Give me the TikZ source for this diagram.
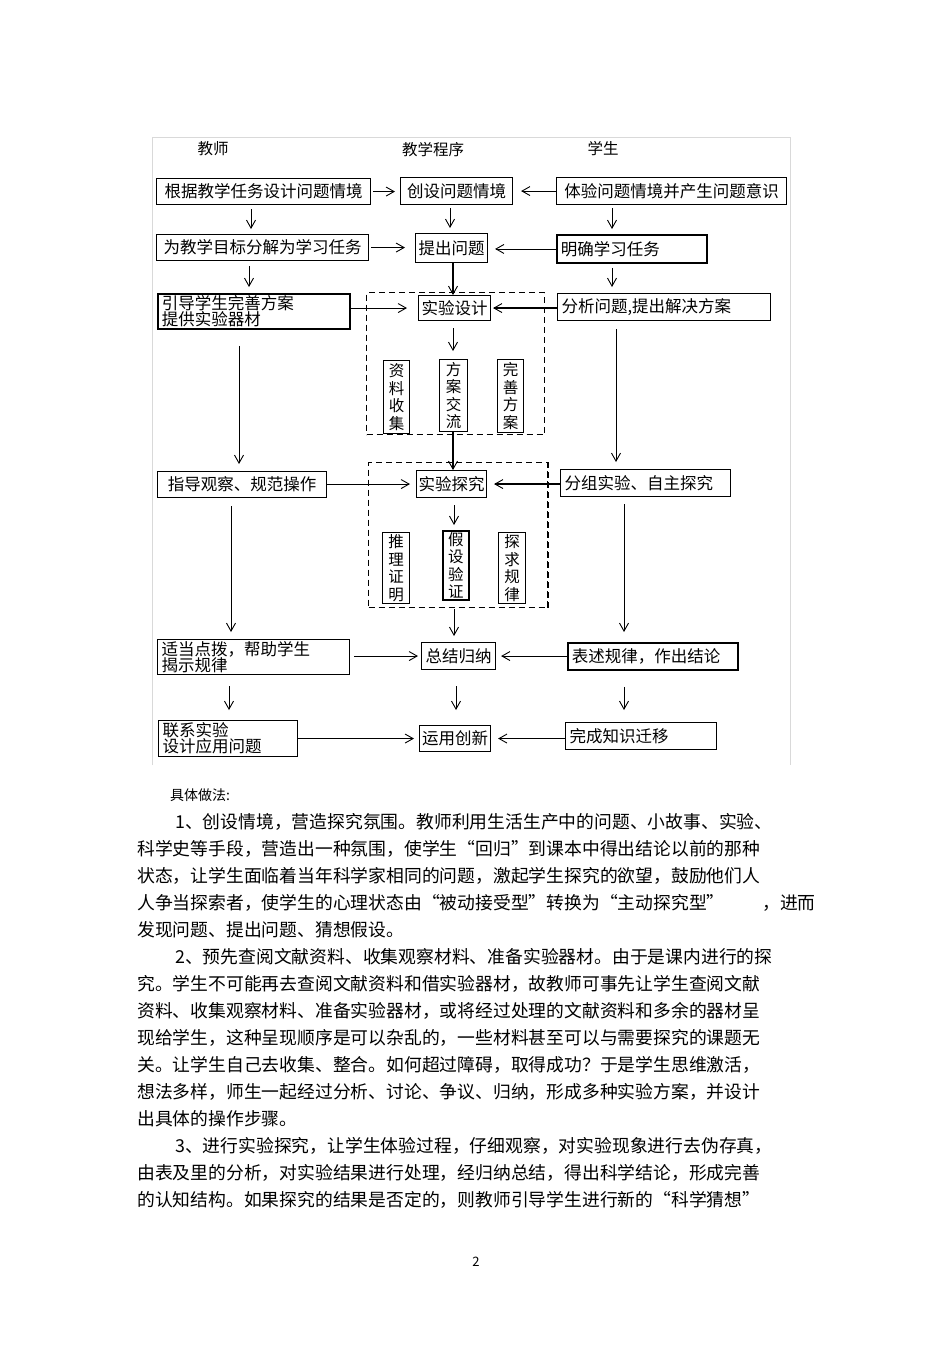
\documentclass[tikz,border=0pt]{standalone}
\usepackage{fontspec}
\newfontfamily\cjk{Noto Sans CJK SC}
\usetikzlibrary{arrows.meta}
\begin{document}
\begin{tikzpicture}[x=1pt,y=-1pt,
  bx/.style={draw, line width=1.1pt, inner sep=1.5pt, anchor=north west, font=\cjk\fontsize{16.5}{16}\selectfont},
  lbx/.style={bx, align=left, inner xsep=4pt},
  thk/.style={line width=1.9pt},
  vbx/.style={draw, line width=1.1pt, inner sep=1pt, anchor=north west, align=center, font=\cjk\fontsize{15.5}{17.5}\selectfont},
  dbx/.style={draw, dash pattern=on 6pt off 4pt, line width=1.1pt, anchor=north west, inner sep=0pt},
  hdr/.style={font=\cjk\fontsize{15.5}{15}\selectfont},
  arr/.style={-{Straight Barb[length=8pt,width=9pt,line width=0.9pt]}, line width=0.9pt},
  tarr/.style={arr, line width=2pt},
  para/.style={anchor=base west, inner sep=0pt, font=\cjk\fontsize{17.8}{20}\selectfont},
]
\useasboundingbox (0,0) rectangle (950,1346);
\fill[white] (0,0) rectangle (950,1346);
% frame
\draw[line width=0.8pt, color=black!15] (152,765) -- (152,137) -- (790,137) -- (790,765);
% headers
\node[hdr] (h1) at (213,149) {教师};
\node[hdr] (h2) at (433,150) {教学程序};
\node[hdr] (h3) at (603,149) {学生};
% dashed groups
\node[dbx, minimum width=178, minimum height=142] (d1) at (366,292) {};
\node[dbx, minimum width=179, minimum height=145] (d2) at (368,462) {};
\draw[dash pattern=on 6pt off 4pt, line width=2pt] (d2.north east) -- (d2.south east);
% row 1
\node[bx, minimum width=214, minimum height=26] (a1) at (156,178) {根据教学任务设计问题情境};
\node[bx, minimum width=112, minimum height=27] (b1) at (400,177) {创设问题情境};
\node[bx, minimum width=230, minimum height=27] (c1) at (556,177) {体验问题情境并产生问题意识};
% row 2
\node[bx, minimum width=212, minimum height=26] (a2) at (156,234) {为教学目标分解为学习任务};
\node[bx, minimum width=72, minimum height=29] (b2) at (415,233) {提出问题};
\node[lbx, thk, text width=142pt, minimum height=28] (c2) at (556,234) {明确学习任务};
% row 3
\node[lbx, thk, text width=184pt, minimum height=35] (a3) at (157,293) {引导学生完善方案\\提供实验器材};
\node[bx, minimum width=72, minimum height=25] (b3) at (418,295) {实验设计};
\node[lbx, text width=205pt, minimum height=27] (c3) at (557,293) {分析问题,提出解决方案};
\node[vbx, minimum width=26, minimum height=73] (i1) at (383,360) {资\\料\\收\\集};
\node[vbx, minimum width=28, minimum height=72] (i2) at (439,359) {方\\案\\交\\流};
\node[vbx, minimum width=26, minimum height=73] (i3) at (497,359) {完\\善\\方\\案};
% row 4
\node[bx, minimum width=169, minimum height=26] (a4) at (157,471) {指导观察、规范操作};
\node[bx, minimum width=70, minimum height=27] (b4) at (416,470) {实验探究};
\node[lbx, text width=162pt, minimum height=27] (c4) at (560,469) {分组实验、自主探究};
\node[vbx, minimum width=27, minimum height=71] (j1) at (382,532) {推\\理\\证\\明};
\node[vbx, thk, minimum width=26, minimum height=69] (j2) at (442,530) {假\\设\\验\\证};
\node[vbx, minimum width=27, minimum height=71] (j3) at (498,532) {探\\求\\规\\律};
% row 5
\node[lbx, text width=184pt, minimum height=35] (a5) at (157,639) {适当点拨，帮助学生\\揭示规律};
\node[bx, minimum width=74, minimum height=27] (b5) at (421,642) {总结归纳};
\node[lbx, thk, text width=162pt, minimum height=27] (c5) at (567,642) {表述规律，作出结论};
% row 6
\node[lbx, text width=131pt, minimum height=36] (a6) at (158,720) {联系实验\\设计应用问题};
\node[bx, minimum width=71, minimum height=26] (b6) at (419,725) {运用创新};
\node[lbx, text width=143pt, minimum height=27] (c6) at (565,722) {完成知识迁移};
% column coordinates for vertical connectors
\coordinate (k1) at (251,0);
\coordinate (k2) at (450,0);
\coordinate (k3) at (612,0);
\coordinate (k4) at (249,0);
\coordinate (k5) at (453,0);
\coordinate (k6) at (239,0);
\coordinate (k7) at (616,0);
\coordinate (k8) at (454,0);
\coordinate (k9) at (231,0);
\coordinate (k10) at (624,0);
\coordinate (k11) at (229,0);
\coordinate (k12) at (456,0);
% vertical connectors
\draw[arr, shorten <=4pt, shorten >=5pt] (k1 |- a1.south) -- (k1 |- a2.north);
\draw[arr, shorten <=3pt, shorten >=5pt] (k2 |- b1.south) -- (k2 |- b2.north);
\draw[arr, shorten <=3pt, shorten >=5pt] (k3 |- c1.south) -- (k3 |- c2.north);
\draw[arr, shorten <=5pt, shorten >=6pt] (k4 |- a2.south) -- (k4 |- a3.north);
\draw[tarr] (k5 |- b2.south) -- (k5 |- b3.north);
\draw[arr, shorten <=4pt, shorten >=6pt] (k3 |- c2.south) -- (k3 |- c3.north);
\draw[arr, shorten <=7pt, shorten >=8pt] (k5 |- b3.south) -- (k5 |- i2.north);
\draw[tarr] (k5 |- i2.south) -- (k5 |- b4.north);
\draw[arr, shorten <=16pt, shorten >=7pt] (k6 |- a3.south) -- (k6 |- a4.north);
\draw[arr, shorten <=8pt, shorten >=7pt] (k7 |- c3.south) -- (k7 |- c4.north);
\draw[arr, shorten <=7pt, shorten >=5pt] (k8 |- b4.south) -- (k8 |- j2.north);
\draw[arr, shorten <=8pt, shorten >=7pt] (k9 |- a4.south) -- (k9 |- a5.north);
\draw[arr, shorten <=7pt, shorten >=10pt] (k10 |- c4.south) -- (k10 |- c5.north);
\draw[arr, shorten <=8pt, shorten >=6pt] (k8 |- j2.south) -- (k8 |- b5.north);
\draw[arr, shorten <=11pt, shorten >=10pt] (k11 |- a5.south) -- (k11 |- a6.north);
\draw[arr, shorten <=16pt, shorten >=15pt] (k12 |- b5.south) -- (k12 |- b6.north);
\draw[arr, shorten <=16pt, shorten >=12pt] (k10 |- c5.south) -- (k10 |- c6.north);
% horizontal connectors
\draw[arr, shorten <=2pt, shorten >=5pt] (a1.east) -- (a1.east -| b1.west);
\draw[arr, shorten >=8pt] (c1.west) -- (c1.west -| b1.east);
\draw[arr, shorten <=2pt, shorten >=10pt] (a2.east) -- (a2.east -| b2.west);
\draw[arr, shorten >=7pt] (c2.west) -- (c2.west -| b2.east);
\draw[arr, shorten >=11pt] (a3.east |- b3.west) -- (b3.west);
\draw[tarr, shorten >=2pt] (c3.west |- b3.east) -- (b3.east);
\draw[arr, shorten >=6pt] (a4.east |- b4.west) -- (b4.west);
\draw[tarr, shorten >=7pt] (c4.west |- b4.east) -- (b4.east);
\draw[arr, shorten <=4pt, shorten >=3pt] (a5.east |- b5.west) -- (b5.west);
\draw[arr, shorten >=5pt] (c5.west |- b5.east) -- (b5.east);
\draw[arr, shorten >=5pt] (a6.east |- b6.west) -- (b6.west);
\draw[arr, shorten >=7pt] (c6.west |- b6.east) -- (b6.east);
% text below
\node[anchor=base west, inner sep=0pt, font=\cjk\fontsize{14}{14}\selectfont] (t0) at (170,800) {具体做法:};
\node[para] (p1) at (175,828) {1、创设情境，营造探究氛围。教师利用生活生产中的问题、小故事、实验、};
\node[para] (p2) at (137,855) {科学史等手段，营造出一种氛围，使学生“回归”到课本中得出结论以前的那种};
\node[para] (p3) at (137,882) {状态，让学生面临着当年科学家相同的问题，激起学生探究的欲望，鼓励他们人};
\node[para] (p4) at (137,909) {人争当探索者，使学生的心理状态由“被动接受型”转换为“主动探究型”};
\node[para] (p4b) at (762,909) {，进而};
\node[para] (p5) at (137,936) {发现问题、提出问题、猜想假设。};
\node[para] (p6) at (175,963) {2、预先查阅文献资料、收集观察材料、准备实验器材。由于是课内进行的探};
\node[para] (p7) at (137,990) {究。学生不可能再去查阅文献资料和借实验器材，故教师可事先让学生查阅文献};
\node[para] (p8) at (137,1017) {资料、收集观察材料、准备实验器材，或将经过处理的文献资料和多余的器材呈};
\node[para] (p9) at (137,1044) {现给学生，这种呈现顺序是可以杂乱的，一些材料甚至可以与需要探究的课题无};
\node[para] (p10) at (137,1071) {关。让学生自己去收集、整合。如何超过障碍，取得成功？于是学生思维激活，};
\node[para] (p11) at (137,1098) {想法多样，师生一起经过分析、讨论、争议、归纳，形成多种实验方案，并设计};
\node[para] (p12) at (137,1125) {出具体的操作步骤。};
\node[para] (p13) at (175,1152) {3、进行实验探究，让学生体验过程，仔细观察，对实验现象进行去伪存真，};
\node[para] (p14) at (137,1179) {由表及里的分析，对实验结果进行处理，经归纳总结，得出科学结论，形成完善};
\node[para] (p15) at (137,1206) {的认知结构。如果探究的结果是否定的，则教师引导学生进行新的“科学猜想”};
\node[font=\cjk\fontsize{13}{13}\selectfont] (pg) at (476,1262) {2};
\end{tikzpicture}
\end{document}
